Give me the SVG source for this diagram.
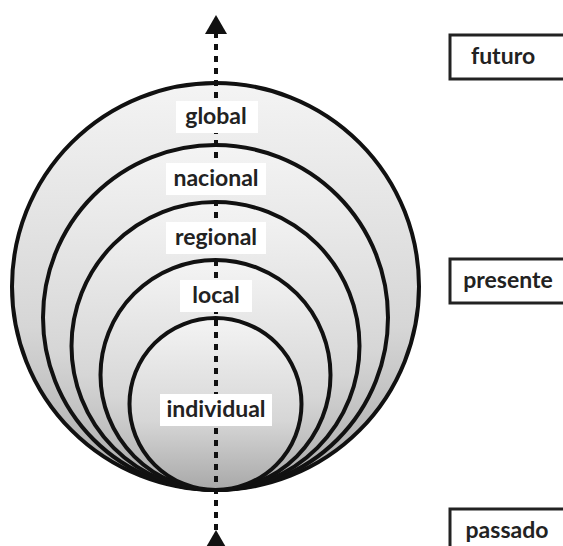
<svg xmlns="http://www.w3.org/2000/svg" width="563" height="546" viewBox="0 0 563 546">
<defs>
<linearGradient id="g" x1="0" y1="0" x2="0" y2="1">
<stop offset="0" stop-color="#f4f4f4"/>
<stop offset="0.6" stop-color="#d6d6d6"/>
<stop offset="1" stop-color="#a8a8a8"/>
</linearGradient>
<style>
.ring{fill:url(#g);stroke:#111;stroke-width:4}
.lb{fill:#fff}
.t{font-family:Lato,"Open Sans",sans-serif;font-weight:bold;font-size:23px;fill:#222;text-anchor:middle}
.box{fill:#fff;stroke:#222;stroke-width:3}
.axis{stroke:#111;stroke-width:4;stroke-dasharray:6 6}
</style>
</defs>
<g id="rings">
<circle id="c-global" class="ring" cx="215.5" cy="286.5" r="203.5"/>
<circle id="c-nacional" class="ring" cx="215.5" cy="317.5" r="172.5"/>
<circle id="c-regional" class="ring" cx="215.5" cy="346" r="144"/>
<circle id="c-local" class="ring" cx="215.5" cy="375" r="115"/>
<circle id="c-individual" class="ring" cx="215.5" cy="404" r="86"/>
</g>
<g id="connectors">
<line class="axis" x1="216" y1="32" x2="216" y2="532"/>
<polygon points="216,15 205,34 227,34" fill="#111"/>
<polygon points="216,530 205,549 227,549" fill="#111"/>
</g>
<g id="global"><rect class="lb" x="176" y="101" width="82" height="32"/><text class="t" x="216" y="124">global</text></g>
<g id="nacional"><rect class="lb" x="166" y="163" width="100" height="32"/><text class="t" x="216" y="186">nacional</text></g>
<g id="regional"><rect class="lb" x="166" y="222" width="100" height="32"/><text class="t" x="216" y="245">regional</text></g>
<g id="local"><rect class="lb" x="180" y="280" width="72" height="32"/><text class="t" x="216" y="303">local</text></g>
<g id="individual"><rect class="lb" x="160" y="394" width="112" height="32"/><text class="t" x="216" y="417">individual</text></g>
<g id="futuro"><rect class="box" x="450" y="35" width="118" height="44"/><text class="t" x="503" y="64">futuro</text></g>
<g id="presente"><rect class="box" x="450" y="259" width="118" height="44"/><text class="t" x="508" y="288">presente</text></g>
<g id="passado"><rect class="box" x="450" y="509" width="118" height="44"/><text class="t" x="507" y="538">passado</text></g>
</svg>
